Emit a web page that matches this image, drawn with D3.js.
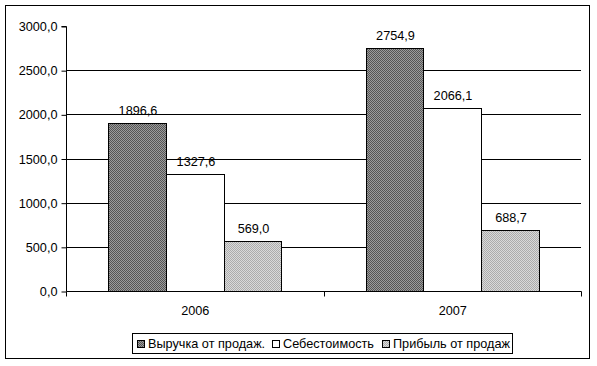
<!DOCTYPE html>
<html><head><meta charset="utf-8">
<script src="https://cdn.jsdelivr.net/npm/d3@7"></script>
<style>body{margin:0;background:#fff}svg{display:block}text{font-family:"Liberation Sans",Arial,sans-serif;font-size:12.7px;fill:#000}</style>
</head><body><svg id="c" width="597" height="366"></svg>
<script>
const categories = ["2006", "2007"];
const seriesNames = ["Выручка от продаж.", "Себестоимость", "Прибыль от продаж"];
const revenue = [1896.6, 2754.9];
const cost = [1327.6, 2066.1];
const profit = [569.0, 688.7];
const yTicks = [0, 500, 1000, 1500, 2000, 2500, 3000];
const seriesValues = [revenue, cost, profit];

(function(){
const svg = d3.select("#c");
const defs = svg.append("defs");
function checker(id, base, dot){
  const p = defs.append("pattern").attr("id",id).attr("width",4).attr("height",4).attr("patternUnits","userSpaceOnUse");
  p.append("rect").attr("width",4).attr("height",4).attr("fill",base);
  [[0,0],[2,0],[1,1],[3,1],[0,2],[2,2],[1,3],[3,3]].forEach(([x,y])=>p.append("rect").attr("x",x).attr("y",y).attr("width",1).attr("height",1).attr("fill",dot));
}
checker("p1","#9c9c9c","#555555");
checker("p3","#dadada","#acacac");
const fills = ["url(#p1)", "#ffffff", "url(#p3)"];

// outer frame
svg.append("rect").attr("x",5.5).attr("y",5.5).attr("width",584).attr("height",353).attr("fill","#fff").attr("stroke","#000").attr("stroke-width",1);

const pl = 66, pr = 581, pt = 26, pb = 291;
const y = d3.scaleLinear().domain([0,3000]).range([pb, pt]);
const x0 = d3.scaleBand().domain(categories).range([pl, pr]).paddingInner(0).paddingOuter(0);
const x1 = d3.scaleBand().domain(d3.range(3)).range([0, x0.bandwidth()]).paddingOuter(0.739).paddingInner(0);

// gridlines
svg.append("g").selectAll("line").data(yTicks.filter(v=>v>0 && v<3000)).join("line")
  .attr("x1",pl).attr("x2",pr).attr("y1",d=>Math.round(y(d))+0.5).attr("y2",d=>Math.round(y(d))+0.5)
  .attr("stroke","#000");

// bars
const fmt = v => v.toFixed(1).replace(".", ",");
categories.forEach((c, ci) => {
  seriesValues.forEach((vals, si) => {
    const bx = Math.round(x0(c) + x1(si));
    const bw = Math.round(x0(c) + x1(si) + x1.bandwidth()) - bx;
    const by = Math.round(y(vals[ci]));
    svg.append("rect").attr("x",bx+0.5).attr("y",by+0.5).attr("width",bw).attr("height",pb-by)
      .attr("fill",fills[si]).attr("stroke","#000");
    svg.append("text").attr("x",bx+bw/2+1).attr("y",by-8).attr("text-anchor","middle").text(fmt(vals[ci]));
  });
});

// y axis
const yAxis = d3.axisLeft(y).tickValues(yTicks).tickSize(5).tickFormat(d=>d.toFixed(1).replace(".", ","));
const ga = svg.append("g").attr("transform",`translate(${pl+0.5},0.5)`).call(yAxis);
ga.select(".domain").attr("d",`M-5,${pt}H0V${pb}`);
ga.selectAll("text").attr("x",-9).style("font-size","12.7px").style("font-family","Liberation Sans, Arial, sans-serif");

// x axis
const gx = svg.append("g").attr("transform",`translate(0.5,${pb+0.5})`);
gx.append("line").attr("x1",pl).attr("x2",pr).attr("stroke","#000");
gx.selectAll("line.t").data([pl, ...categories.map(c=>x0(c)+x0.bandwidth())]).join("line").attr("class","t")
  .attr("x1",d=>Math.round(d)).attr("x2",d=>Math.round(d)).attr("y1",0).attr("y2",5).attr("stroke","#000");
gx.selectAll("text").data(categories).join("text").attr("x",d=>x0(d)+x0.bandwidth()/2).attr("y",23)
  .attr("text-anchor","middle").text(d=>d);

// legend
const lg = svg.append("g");
lg.append("rect").attr("x",132.5).attr("y",333.5).attr("width",380).attr("height",20).attr("fill","#fff").attr("stroke","#000");
const lx = [137, 272, 382];
seriesNames.forEach((n,i)=>{
  lg.append("rect").attr("x",lx[i]+0.5).attr("y",340.5).attr("width",7).attr("height",7).attr("fill",fills[i]).attr("stroke","#000");
  lg.append("text").attr("x",lx[i]+11).attr("y",348).text(n);
});
})();
</script></body></html>
